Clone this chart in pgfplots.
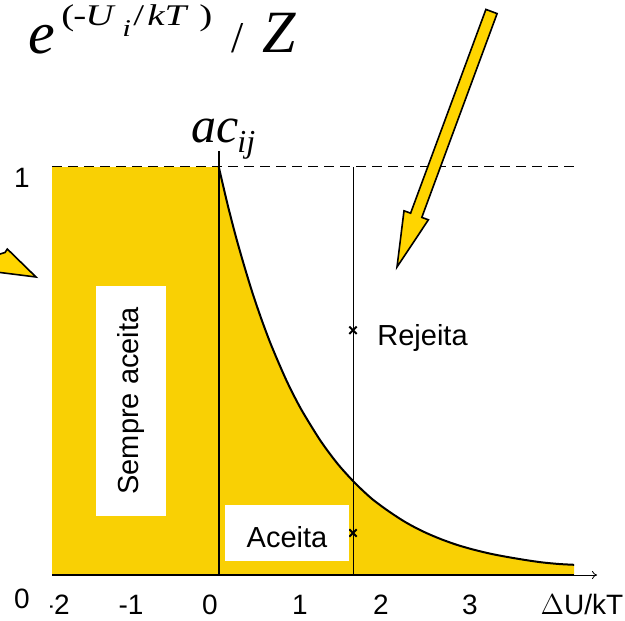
\documentclass[border=0pt]{standalone}
\usepackage{fontspec}
\setmainfont{Liberation Sans}
\newfontfamily\tnr{Liberation Serif}
\usepackage{pgfplots}
\pgfplotsset{compat=1.18}
\usetikzlibrary{arrows.meta}
\definecolor{fillY}{RGB}{249,208,4}
\definecolor{arrY}{RGB}{255,213,0}
\newcommand{\wide}[1]{\scalebox{1.3}[1]{#1}}
\begin{document}
\begin{tikzpicture}
\begin{axis}[
  at={(0,0)}, anchor=north west,
  width=312.5pt, height=310pt, scale only axis,
  xmin=-2.494, xmax=4.859, ymin=-0.1103, ymax=1.4093,
  hide axis, clip=false]
% always accepted region
\addplot[fill=fillY, draw=none] coordinates {(-1.882,0) (-1.882,1) (0.082,1) (0.082,0)} -- cycle;
% area under exp(-dU/kT)
\addplot[fill=fillY, draw=none] coordinates {
(0.082,0) (0.08,1) (0.18,0.911) (0.28,0.830) (0.38,0.757) (0.48,0.689) (0.58,0.628)
(0.68,0.572) (0.78,0.522) (0.88,0.475) (0.98,0.433) (1.08,0.395) (1.28,0.328)
(1.48,0.272) (1.68,0.226) (1.88,0.187) (2.08,0.156) (2.28,0.129) (2.48,0.107)
(2.68,0.089) (2.88,0.074) (3.08,0.062) (3.28,0.052) (3.48,0.044) (3.68,0.037)
(3.88,0.031) (4.08,0.027) (4.26,0.025) (4.26,0)} -- cycle;
\addplot[black, line width=1pt, smooth] coordinates {
(0.08,1) (0.18,0.911) (0.28,0.830) (0.38,0.757) (0.48,0.689) (0.58,0.628)
(0.68,0.572) (0.78,0.522) (0.88,0.475) (0.98,0.433) (1.08,0.395) (1.28,0.328)
(1.48,0.272) (1.68,0.226) (1.88,0.187) (2.08,0.156) (2.28,0.129) (2.48,0.107)
(2.68,0.089) (2.88,0.074) (3.08,0.062) (3.28,0.052) (3.48,0.044) (3.68,0.037)
(3.88,0.031) (4.08,0.027) (4.26,0.025)};
\addplot[black, line width=0.5pt, dash pattern=on 5pt off 3pt] coordinates {(-1.882,1) (4.26,1)};
\addplot[black, line width=1pt] coordinates {(0.082,0) (0.082,1.04)};
\addplot[black, line width=0.5pt] coordinates {(1.659,0) (1.659,1)};
\addplot[black, line width=1.25pt] coordinates {(-1.882,0) (4.26,0)};
\addplot[black, line width=0.4pt, -{To[length=2.5pt,width=4pt]}] coordinates {(4.26,0) (4.53,0)};
\addplot[only marks, mark=x, mark size=2.6pt, black, line width=1pt] coordinates {(1.659,0.60) (1.659,0.103)};
\end{axis}
\begin{scope}[x=0.5pt, y=-0.5pt]
\clip (0,0) rectangle (625,620);
% label boxes
\fill[white] (96,286) rectangle (166,516);
\node[rotate=90, inner sep=0, font=\fontsize{14.5}{14.5}\selectfont] at (131,401) {Sempre aceita};
\fill[white] (225,505) rectangle (349,561);
\node[inner sep=0, font=\fontsize{14.5}{14.5}\selectfont] at (287,537) {Aceita};
\node[anchor=base west, inner sep=0, font=\fontsize{14.5}{14.5}\selectfont] at (377,345) {Rejeita};
% axis labels
\begin{scope}[every node/.style={anchor=base, inner sep=0, font=\fontsize{14}{14}\selectfont}]
\node at (22,187) {1};
\node at (22,608) {0};
\node[anchor=base east] at (70,614) {-2};
\node at (131,614) {-1};
\node at (210,614) {0};
\node at (300,614) {1};
\node at (381,614) {2};
\node at (470,614) {3};
\node at (582,614) {$\Delta$U/kT};
\end{scope}
\fill[white] (38,590) rectangle (50,620);
% formula
\node[anchor=base west, inner sep=0, font=\tnr\itshape\fontsize{30}{30}\selectfont] at (28,54) {e};
\begin{scope}[every node/.style={anchor=base west, inner sep=0, font=\tnr\fontsize{15}{15}\selectfont}]
\node at (61,26) {\wide{(}};
\node at (73,26) {\wide{-}};
\node at (85,26) {\wide{\itshape U}};
\node[font=\tnr\itshape\fontsize{12}{12}\selectfont] at (122,37) {\wide{i}};
\node at (133,26) {\wide{/}};
\node at (147,26) {\wide{\itshape kT}};
\node at (199,26) {\wide{)}};
\end{scope}
\node[anchor=base west, inner sep=0, font=\tnr\fontsize{22}{22}\selectfont] at (231,53) {/};
\node[anchor=base west, inner sep=0, font=\tnr\itshape\fontsize{30}{30}\selectfont] at (262,53) {Z};
% ac_ij
\node[anchor=base west, inner sep=0, font=\tnr\itshape\fontsize{25}{25}\selectfont] at (191,143) {ac};
\node[anchor=base west, inner sep=0, font=\tnr\itshape\fontsize{16}{16}\selectfont] at (237,153) {ij};
% arrows
\filldraw[fill=arrY, draw=black, line width=0.8pt, line join=miter]
 (485.9,9.4) -- (410.6,213.2) -- (404.0,210.8) -- (397,267) -- (428.4,219.8) -- (421.8,217.4) -- (497.1,13.6) -- cycle;
\filldraw[fill=arrY, draw=black, line width=0.8pt, line join=miter]
 (-20,260) -- (5,252.5) -- (7.3,249) -- (36,277) -- (-20,270) -- cycle;
\end{scope}
\pgfresetboundingbox
\useasboundingbox (0,0) rectangle (312.5pt,-310pt);
\end{tikzpicture}
\end{document}
